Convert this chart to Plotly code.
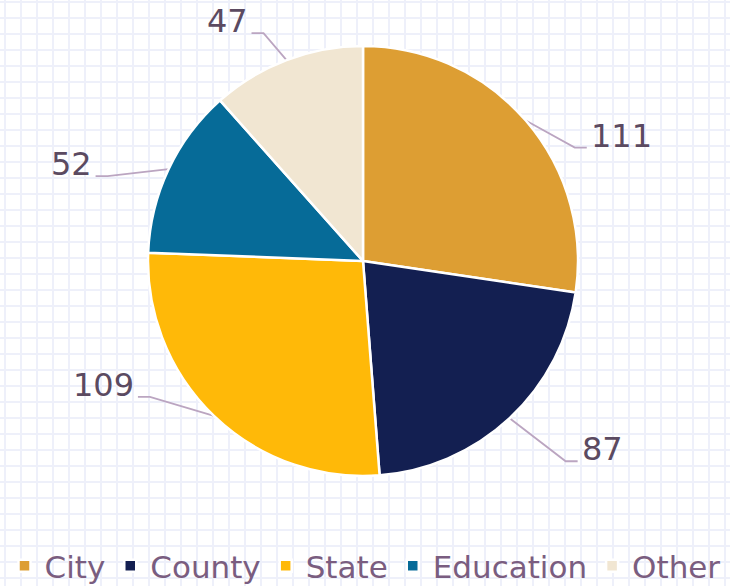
import math
import plotly.graph_objects as go

# ---- data ----
categories = ["City", "County", "State", "Education", "Other"]
values = [111, 87, 109, 52, 47]
colors = ["#DD9E33", "#131F51", "#FFB908", "#066B98", "#F1E6D2"]

# ---- style / layout constants ----
W, H = 730, 586
CX, CY, R = 363, 261, 215            # pie centre and radius in px
ELBOW = [(49, 27), (56, 43), (-64, -19), (-61, 7), (-23, -27)]  # leader elbow offsets (px)
SEG = 12                              # horizontal leader segment
LABEL_COLOR = "#5B4A61"
LEADER_COLOR = "#BBA5C1"
LEGEND_COLOR = "#7A5D80"
GRID_COLOR = "#EEF0FA"
FONT = "DejaVu Sans"

fig = go.Figure()

# invisible trace to create pixel-based cartesian space (grid background)
fig.add_trace(go.Scatter(x=[0, W], y=[0, H], mode="markers",
                         marker=dict(opacity=0), showlegend=False, hoverinfo="skip"))

fig.add_trace(go.Pie(
    labels=categories, values=values, sort=False, direction="clockwise", rotation=0,
    marker=dict(colors=colors, line=dict(color="white", width=2.5)),
    textinfo="none", hoverinfo="label+value",
    domain=dict(x=[(CX - R) / W, (CX + R) / W],
                y=[(H - CY - R) / H, (H - CY + R) / H]),
))

total = sum(values)
cum = 0
annotations = []
for i, v in enumerate(values):
    theta = (cum + v / 2) / total * 2 * math.pi
    cum += v
    ax = CX + R * math.sin(theta)
    ay = CY - R * math.cos(theta)
    dx, dy = ELBOW[i]
    ex, ey = ax + dx, ay + dy
    side = 1 if dx > 0 else -1
    hx = ex + side * SEG
    fig.add_trace(go.Scatter(x=[ax, ex, hx], y=[ay, ey, ey], mode="lines",
                             line=dict(color=LEADER_COLOR, width=1.8),
                             showlegend=False, hoverinfo="skip"))
    annotations.append(dict(
        x=hx + side * 2, y=ey - 12, xref="x", yref="y", text=str(v), showarrow=False,
        xanchor="left" if side > 0 else "right", yanchor="middle",
        font=dict(family=FONT, size=32, color=LABEL_COLOR)))

fig.update_layout(
    width=W, height=H, margin=dict(l=0, r=0, t=0, b=0, autoexpand=False),
    paper_bgcolor="white", plot_bgcolor="white",
    xaxis=dict(range=[0, W], domain=[0, 1], tick0=5, dtick=16, showgrid=True,
               gridcolor=GRID_COLOR, gridwidth=2, zeroline=False, showticklabels=False,
               showline=False, ticks="", fixedrange=True),
    yaxis=dict(range=[H, 0], domain=[0, 1], tick0=2, dtick=16, showgrid=True,
               gridcolor=GRID_COLOR, gridwidth=2, zeroline=False, showticklabels=False,
               showline=False, ticks="", fixedrange=True),
    showlegend=True,
    legend=dict(orientation="h", x=0.5, xanchor="center", y=-0.012, yanchor="bottom",
                bgcolor="rgba(0,0,0,0)", font=dict(family=FONT, size=31, color=LEGEND_COLOR),
                itemclick=False, itemdoubleclick=False),
    annotations=annotations,
)

fig.write_html("out.html", config={"displayModeBar": False},
               post_script="document.body.style.margin='0';document.body.style.overflow='hidden';")
